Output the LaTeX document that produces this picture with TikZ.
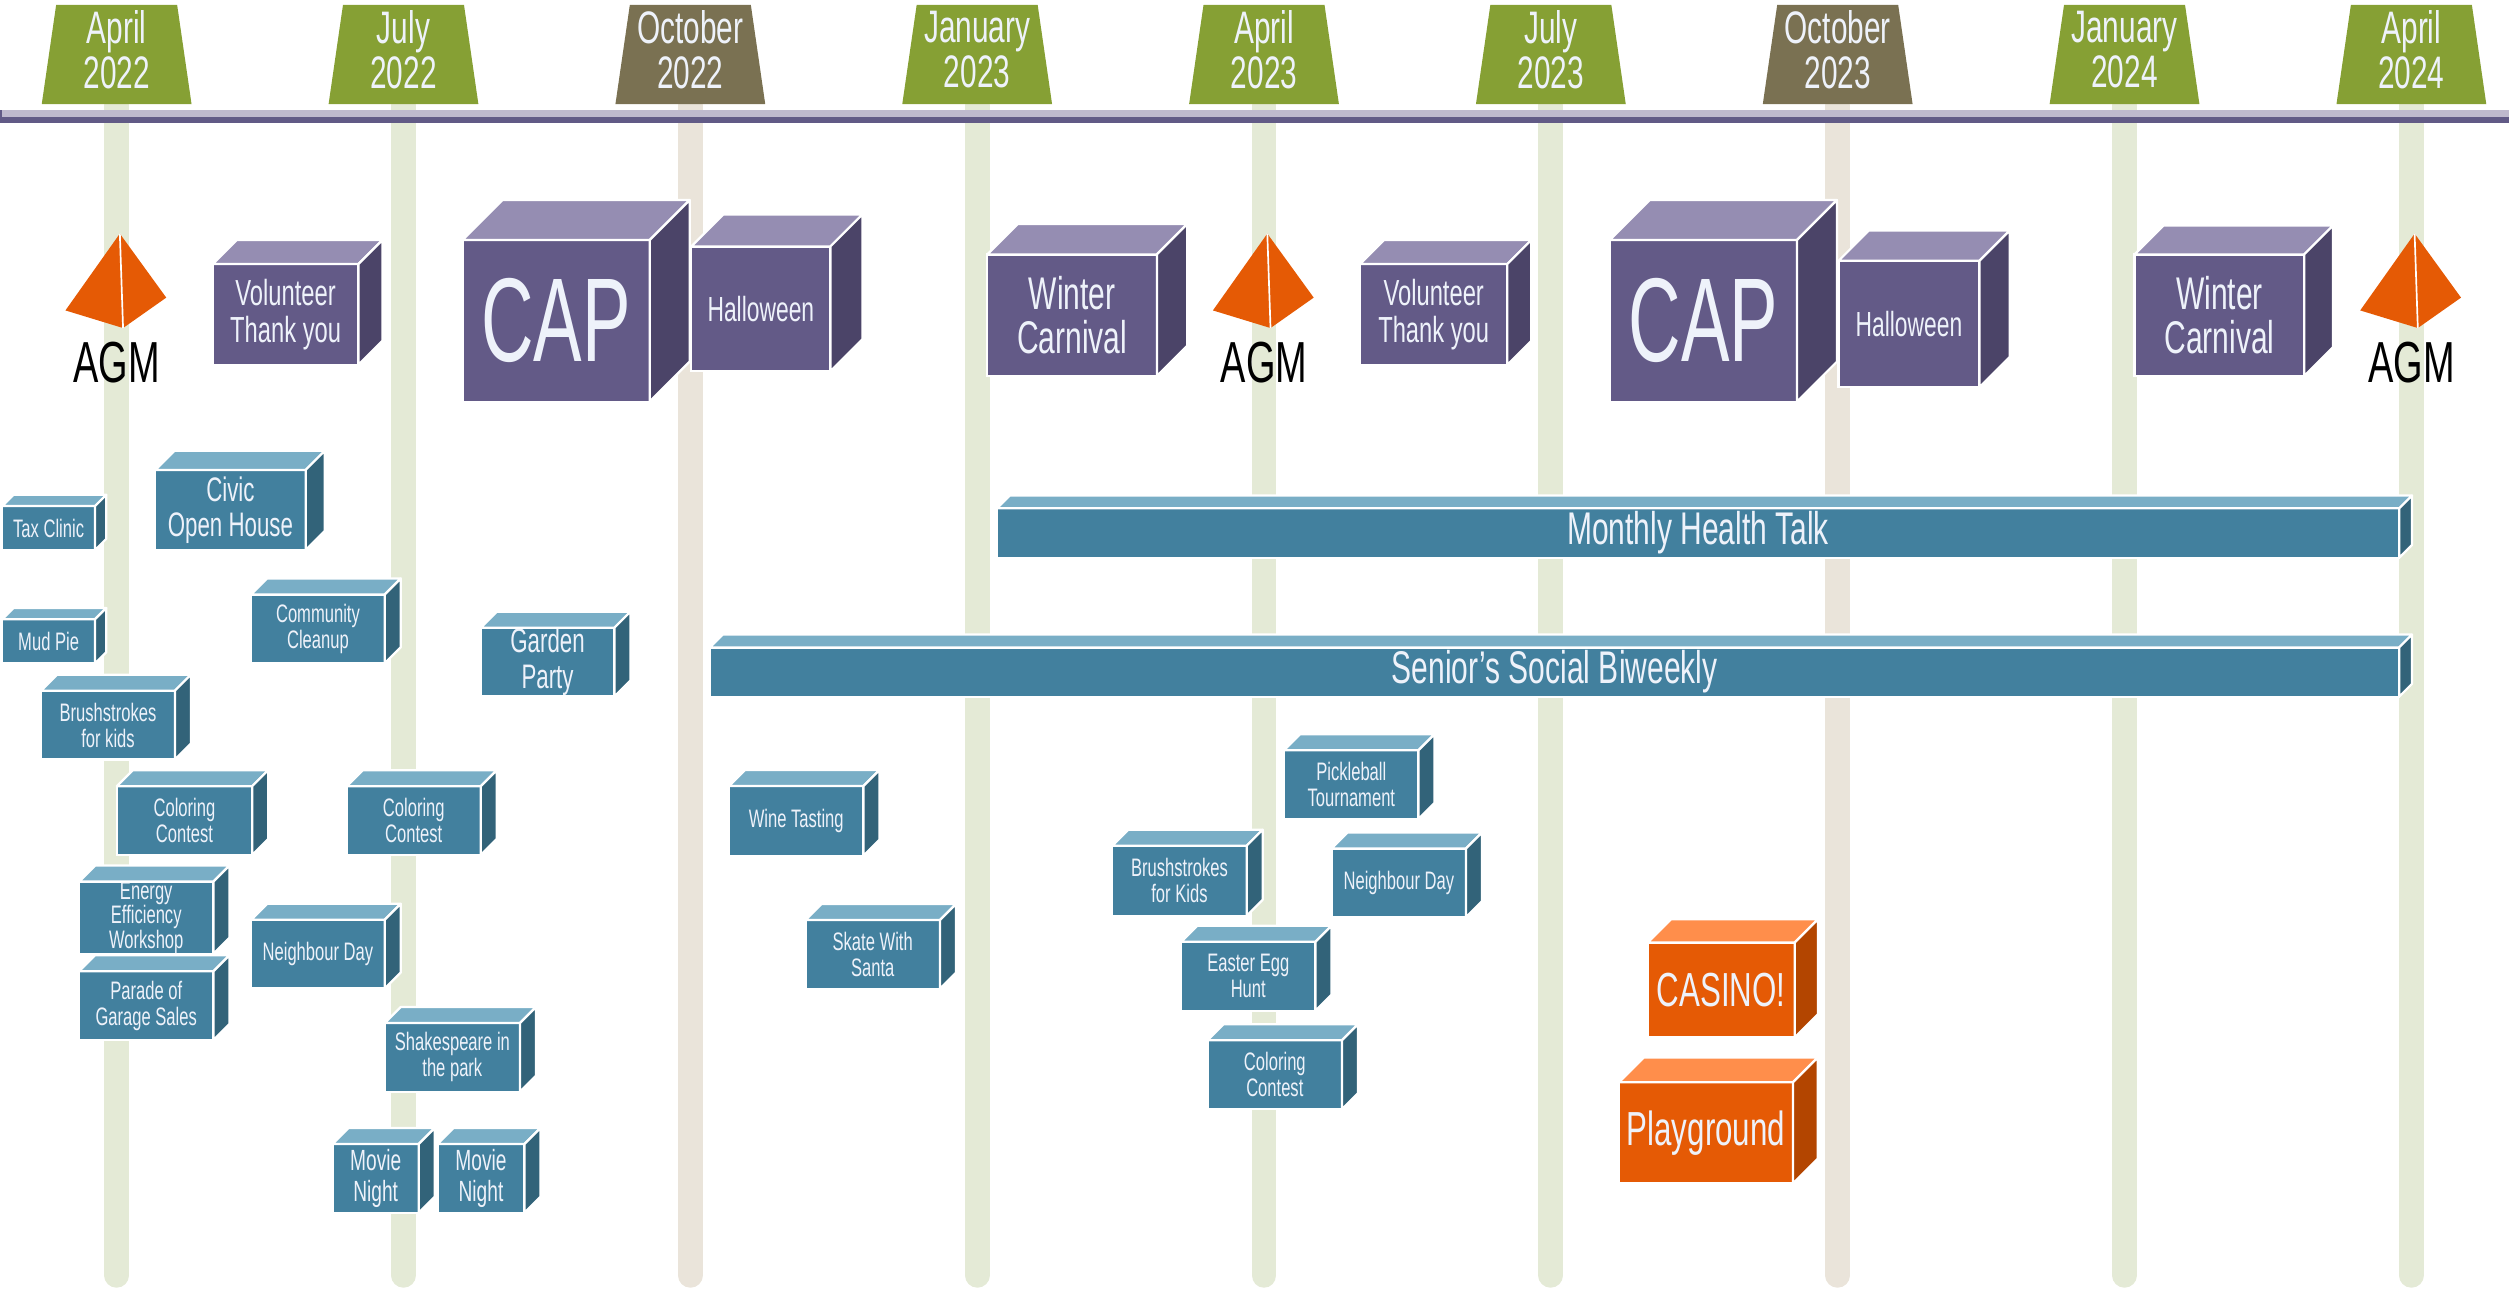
\documentclass[tikz,border=0pt]{standalone}
\usepackage{fontspec}
\newfontfamily\cond[FakeStretch=0.655]{Liberation Sans}
\newfontfamily\condcap[FakeStretch=0.61]{Liberation Sans}
\definecolor{tabgreen}{HTML}{86A034}
\definecolor{tabbrown}{HTML}{7A7152}
\definecolor{linegreen}{HTML}{E4EAD6}
\definecolor{linebeige}{HTML}{EAE4DA}
\definecolor{barlight}{HTML}{BEB9CD}
\definecolor{bardark}{HTML}{615A86}
\definecolor{pfront}{HTML}{635A87}
\definecolor{ptop}{HTML}{958DB2}
\definecolor{pside}{HTML}{4B4468}
\definecolor{bfront}{HTML}{42809E}
\definecolor{btop}{HTML}{79AEC6}
\definecolor{bside}{HTML}{326379}
\definecolor{ofront}{HTML}{E55A05}
\definecolor{otop}{HTML}{FF8E4B}
\definecolor{oside}{HTML}{B34500}
\definecolor{txtw}{HTML}{EEF2FA}

\newcommand{\evcube}[4]{%
  \filldraw[fill=#3, draw=white, line width=0.8pt, line join=round] (#1.north west) -- ([shift={(#2,-#2)}]#1.north west) -- ([shift={(#2,-#2)}]#1.north east) -- (#1.north east) -- cycle;
  \filldraw[fill=#4, draw=white, line width=0.8pt, line join=round] (#1.north east) -- ([shift={(#2,-#2)}]#1.north east) -- ([shift={(#2,-#2)}]#1.south east) -- (#1.south east) -- cycle;
}

\tikzset{
  evbox/.style={draw=white, line width=0.8pt, inner sep=0pt, outer sep=0pt, align=center, text=txtw},
  pbox/.style={evbox, fill=pfront},
  bbox/.style={evbox, fill=bfront},
  obox/.style={evbox, fill=ofront},
  sz/.style 2 args={minimum width=#1*0.02cm, minimum height=#2*0.02cm},
  fs/.style 2 args={font=\cond\fontsize{#1}{#2}\selectfont},
}

\begin{document}
\begin{tikzpicture}[x=0.02cm, y=-0.02cm]
    \useasboundingbox (0,0) rectangle (1568,805.6);

    \foreach \m/\yr/\tc/\lc [count=\i from 0] in {April/2022/tabgreen/linegreen, July/2022/tabgreen/linegreen, October/2022/tabbrown/linebeige, January/2023/tabgreen/linegreen, April/2023/tabgreen/linegreen, July/2023/tabgreen/linegreen, October/2023/tabbrown/linebeige, January/2024/tabgreen/linegreen, April/2024/tabgreen/linegreen} {
        \pgfmathsetmacro\xx{72.9+179.26*\i}
        \draw[\lc, line width=0.31cm, line cap=round] (\xx,66) -- (\xx,797);
        \fill[\tc] (\xx-46.8,65) -- (\xx-37.8,3) -- (\xx+37.8,3) -- (\xx+46.8,65) -- cycle;
        \node[fs={16.2}{15.9}, text=txtw, align=center, inner sep=0pt] (tab\i) at (\xx,31) {\m\\\yr};
    }

    \fill[barlight] (0,68.8) rectangle (1568,72.9);
    \fill[bardark] (0,72.9) rectangle (1568,76.7);
    \fill[bardark] (0,68.8) rectangle (1.5,72.9);

    \foreach \xx [count=\i] in {72.9,790,1507} {
        \fill[ofront] (\xx+2,146) -- (\xx-32,194) -- (\xx+4,205) -- (\xx+31,186) -- cycle;
        \draw[white, line width=0.6pt] (\xx+2,146) -- (\xx+4,205);
        \node[fs={20.6}{21}, inner sep=0pt] (agm\i) at (\xx,226.5) {AGM};
    }

    \node[pbox, sz={91}{63}, fs={12.9}{13}] (vol1) at (178.5,196.5) {Volunteer\\Thank you};
    \evcube{vol1}{15}{ptop}{pside}
    \node[pbox, sz={117}{101}, font=\condcap\fontsize{42.4}{43}\selectfont] (cap1) at (347.5,200.5) {CAP};
    \evcube{cap1}{25}{ptop}{pside}
    \node[pbox, sz={87}{78}, fs={12.4}{12.5}] (hal1) at (475.5,193) {Halloween};
    \evcube{hal1}{20}{ptop}{pside}
    \node[pbox, sz={106}{76}, fs={16.3}{15.9}] (win1) at (670,197) {Winter\\Carnival};
    \evcube{win1}{19}{ptop}{pside}
    \node[pbox, sz={92}{63}, fs={12.9}{13}] (vol2) at (896,196.5) {Volunteer\\Thank you};
    \evcube{vol2}{15}{ptop}{pside}
    \node[pbox, sz={117}{101}, font=\condcap\fontsize{42.4}{43}\selectfont] (cap2) at (1064.5,200.5) {CAP};
    \evcube{cap2}{25}{ptop}{pside}
    \node[pbox, sz={88}{79}, fs={12.4}{12.5}] (hal2) at (1193,202.5) {Halloween};
    \evcube{hal2}{19}{ptop}{pside}
    \node[pbox, sz={106}{76}, fs={16.3}{15.9}] (win2) at (1387,197) {Winter\\Carnival};
    \evcube{win2}{18}{ptop}{pside}

    \node[bbox, sz={58}{27.5}, fs={9}{9.2}] (tax) at (30.4,330) {Tax Clinic};
    \evcube{tax}{7}{btop}{bside}
    \node[bbox, sz={94}{50}, fs={12.1}{12.6}] (civic) at (144,318.7) {Civic\\Open House};
    \evcube{civic}{12}{btop}{bside}
    \node[bbox, sz={58}{27.6}, fs={9}{9.2}] (mud) at (30.4,400.8) {Mud Pie};
    \evcube{mud}{7}{btop}{bside}
    \node[bbox, sz={83.5}{43}, fs={9}{9.2}] (comm) at (198.7,393) {Community\\Cleanup};
    \evcube{comm}{10}{btop}{bside}
    \node[bbox, sz={83.5}{43}, fs={12.1}{12.8}] (garden) at (342.2,413.8) {Garden\\Party};
    \evcube{garden}{10}{btop}{bside}
    \node[bbox, sz={83.7}{43}, fs={9}{9.2}] (brush1) at (67.5,453.1) {Brushstrokes\\for kids};
    \evcube{brush1}{10}{btop}{bside}
    \node[bbox, sz={84.6}{43}, fs={9}{9.2}] (col1) at (115.3,512.8) {Coloring\\Contest};
    \evcube{col1}{10}{btop}{bside}
    \node[bbox, sz={83.7}{43}, fs={9}{9.2}] (col2) at (258.6,512.8) {Coloring\\Contest};
    \evcube{col2}{10}{btop}{bside}
    \node[bbox, sz={84}{43}, fs={9}{8.8}] (energy) at (91.4,573.5) {Energy\\Efficiency\\Workshop};
    \evcube{energy}{10}{btop}{bside}
    \node[bbox, sz={84}{43}, fs={9}{9.2}] (parade) at (91.4,628.5) {Parade of\\Garage Sales};
    \evcube{parade}{10}{btop}{bside}
    \node[bbox, sz={83.5}{43}, fs={9}{9.2}] (nbr1) at (198.7,596.3) {Neighbour Day};
    \evcube{nbr1}{10}{btop}{bside}
    \node[bbox, sz={84.5}{43}, fs={9}{9.2}] (shake) at (282.7,660.8) {Shakespeare in\\the park};
    \evcube{shake}{10}{btop}{bside}
    \node[bbox, sz={53.8}{43}, fs={10.4}{11.2}] (movie1) at (234.8,736.4) {Movie\\Night};
    \evcube{movie1}{10}{btop}{bside}
    \node[bbox, sz={54.4}{43}, fs={10.4}{11.2}] (movie2) at (300.6,736.4) {Movie\\Night};
    \evcube{movie2}{10}{btop}{bside}

    \node[bbox, sz={84}{43.5}, fs={9}{9.2}] (wine) at (497.6,513) {Wine Tasting};
    \evcube{wine}{10}{btop}{bside}
    \node[bbox, sz={84}{43}, fs={9}{9.2}] (skate) at (545.4,596.5) {Skate With\\Santa};
    \evcube{skate}{10}{btop}{bside}
    \node[bbox, sz={84}{43}, fs={9}{9.2}] (pickle) at (844.5,490.3) {Pickleball\\Tournament};
    \evcube{pickle}{10}{btop}{bside}
    \node[bbox, sz={84}{43.8}, fs={9}{9.2}] (brush2) at (737.1,550.4) {Brushstrokes\\for Kids};
    \evcube{brush2}{10}{btop}{bside}
    \node[bbox, sz={84}{43}, fs={9}{9.2}] (nbr2) at (874.2,551.7) {Neighbour Day};
    \evcube{nbr2}{10}{btop}{bside}
    \node[bbox, sz={84}{43}, fs={9}{9.2}] (easter) at (780.1,610.1) {Easter Egg\\Hunt};
    \evcube{easter}{10}{btop}{bside}
    \node[bbox, sz={84}{43}, fs={9}{9.2}] (col3) at (796.7,671.6) {Coloring\\Contest};
    \evcube{col3}{10}{btop}{bside}

    \node[bbox, sz={876.4}{30.8}, fs={16.3}{16}] (health) at (1061.2,333.1) {Monthly Health Talk};
    \evcube{health}{8}{btop}{bside}
    \node[bbox, sz={1055.7}{30.8}, fs={16.3}{16}] (senior) at (971.5,420) {Senior’s Social Biweekly};
    \evcube{senior}{8}{btop}{bside}

    \node[obox, sz={91.9}{59.3}, fs={17}{17}] (casino) at (1075.7,618.6) {CASINO!};
    \evcube{casino}{14.5}{otop}{oside}
    \node[obox, sz={108.8}{63.2}, fs={17}{17}] (play) at (1066.1,708) {Playground};
    \evcube{play}{15.5}{otop}{oside}
\end{tikzpicture}
\end{document}
